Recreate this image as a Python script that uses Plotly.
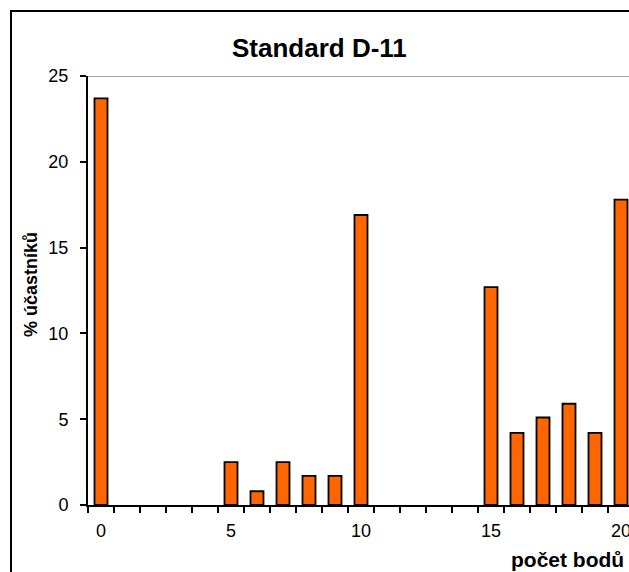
import plotly.graph_objects as go

# Data
points = [str(i) for i in range(21)]
percent = [23.7, None, None, None, None, 2.5, 0.8, 2.5, 1.7, 1.7, 16.9,
           None, None, None, None, 12.7, 4.2, 5.1, 5.9, 4.2, 17.8]
tick_text = [p if int(p) % 5 == 0 else "" for p in points]

title_text = "Standard D-11"
y_title = "% účastníků"
x_title = "počet bodů"

W, H = 629, 572
L, R, T, B = 88, 0, 76, 67
pw, ph = W - L - R, H - T - B

def px_x(px):
    return (px - L) / pw

def px_y(py):
    return (H - B - py) / ph

FONT = "Liberation Sans, Arial, sans-serif"

fig = go.Figure(go.Bar(
    x=points, y=percent, width=0.5,
    marker=dict(color="#FF6600", line=dict(color="black", width=1.8)),
))

fig.update_layout(
    width=W, height=H,
    margin=dict(l=L, r=R, t=T, b=B, pad=0, autoexpand=False),
    paper_bgcolor="white", plot_bgcolor="white",
    showlegend=False,
    font=dict(family=FONT, color="black"),
    bargap=0.5,
)

fig.update_xaxes(
    type="category", categoryorder="array", categoryarray=points,
    range=[-0.5, (W - L) / 26.0 - 0.5], autorange=False, automargin=False,
    tickmode="array", tickvals=points, ticktext=tick_text, tickangle=0,
    tickson="boundaries", ticks="outside", ticklen=6, tickwidth=1.5, tickcolor="black",
    showline=True, linecolor="black", linewidth=2,
    showgrid=False, zeroline=False,
    tickfont=dict(size=18, family=FONT, color="black"),
    ticklabelstandoff=8,
)

fig.update_yaxes(
    range=[0, 25], autorange=False, automargin=False,
    tickmode="array", tickvals=[0, 5, 10, 15, 20, 25],
    ticks="outside", ticklen=6, tickwidth=1.5, tickcolor="black",
    showline=True, linecolor="black", linewidth=2,
    showgrid=False, zeroline=False,
    tickfont=dict(size=18, family=FONT, color="black"),
    ticklabelstandoff=8,
)

# top gridline at 25
fig.add_shape(type="line", xref="paper", yref="y", x0=0, x1=1, y0=25, y1=25,
              line=dict(color="#808080", width=1.5), layer="below")

# outer chart border
fig.add_shape(type="rect", xref="paper", yref="paper",
              x0=px_x(11), x1=px_x(660), y0=px_y(600), y1=px_y(11),
              line=dict(color="black", width=2), fillcolor="rgba(0,0,0,0)")

fig.add_annotation(text="<b>%s</b>" % title_text, xref="paper", yref="paper",
                   x=px_x(319), y=px_y(48), xanchor="center", yanchor="middle",
                   showarrow=False, font=dict(size=26, family=FONT, color="black"))

fig.add_annotation(text="<b>%s</b>" % y_title, xref="paper", yref="paper",
                   x=px_x(31), y=px_y(285), xanchor="center", yanchor="middle",
                   textangle=-90, showarrow=False,
                   font=dict(size=18, family=FONT, color="black"))

fig.add_annotation(text="<b>%s</b>" % x_title, xref="paper", yref="paper",
                   x=px_x(626), y=px_y(559), xanchor="right", yanchor="middle",
                   showarrow=False, font=dict(size=21, family=FONT, color="black"))

fig.write_html("out.html")
